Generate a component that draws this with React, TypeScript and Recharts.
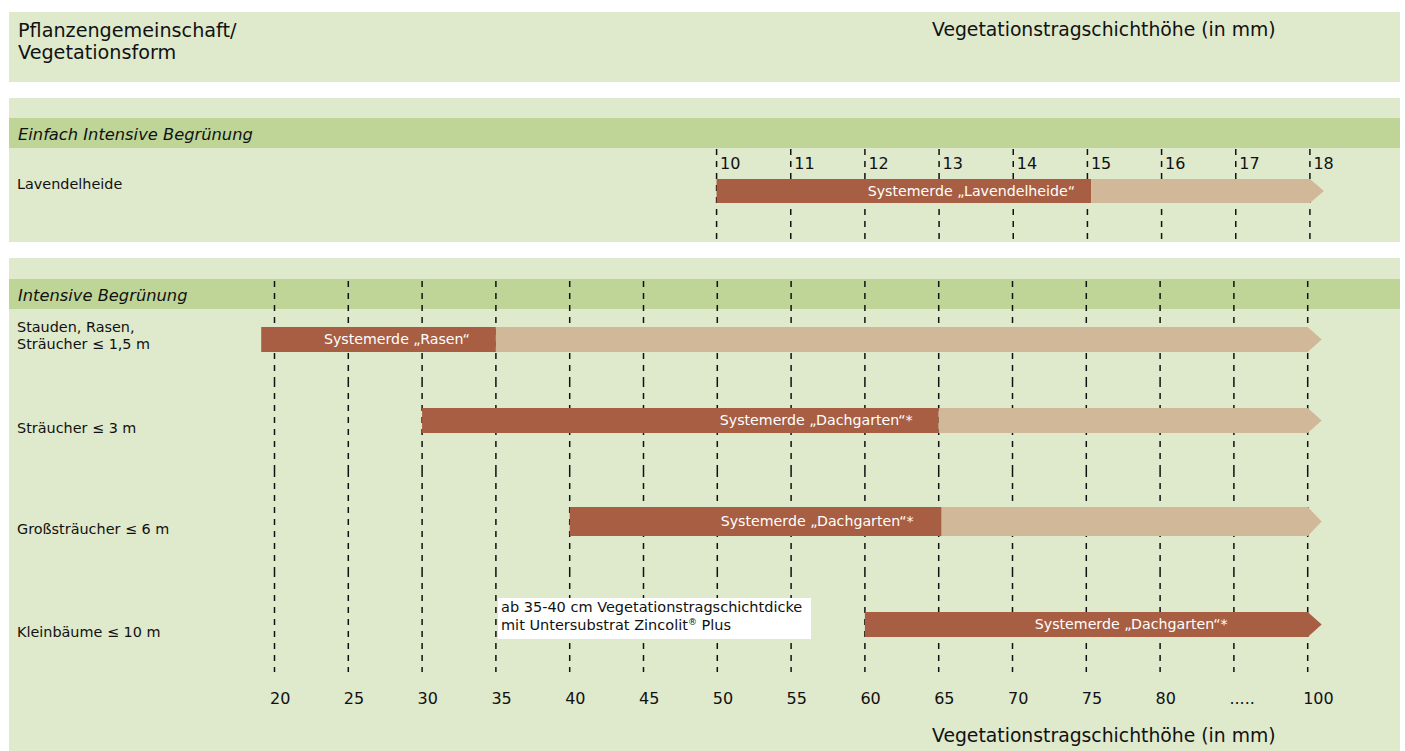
import React from 'react';
import { BarChart, Bar, XAxis, YAxis, CartesianGrid } from 'recharts';

// ---------------- data ----------------
const topTicks = [10, 11, 12, 13, 14, 15, 16, 17, 18];
const topRows = ['Lavendelheide'];
const topStart = [10];
const topSplit = [15.05];
const topEnd = [18];
const topProducts = ['Systemerde „Lavendelheide“'];

const bottomTickValues = [20, 25, 30, 35, 40, 45, 50, 55, 60, 65, 70, 75, 80, 90, 100];
const bottomTickLabels = ['20', '25', '30', '35', '40', '45', '50', '55', '60', '65', '70', '75', '80', '.....', '100'];
const bottomRows = ['Stauden, Rasen,\nSträucher ≤ 1,5 m', 'Sträucher ≤ 3 m', 'Großsträucher ≤ 6 m', 'Kleinbäume ≤ 10 m'];
const bottomStart = [19.1, 30, 40, 60];
const bottomSplit = [35, 65, 65.2, 100];
const bottomEnd = [100, 100, 100, 100];
const bottomProducts = ['Systemerde „Rasen“', 'Systemerde „Dachgarten“*', 'Systemerde „Dachgarten“*', 'Systemerde „Dachgarten“*'];

const headerLeft = ['Pflanzengemeinschaft/', 'Vegetationsform'];
const axisTitle = 'Vegetationstragschichthöhe (in mm)';
const sectionTitles = ['Einfach Intensive Begrünung', 'Intensive Begrünung'];
const noteLine1 = 'ab 35-40 cm Vegetationstragschichtdicke';
const noteLine2 = ['mit Untersubstrat Zincolit', '®', ' Plus'];

// ---------------- styles / layout ----------------
const FONT = "'DejaVu Sans', Verdana, sans-serif";
const LIGHT = '#dfe9cc';
const BAND = '#bed597';
const DARK = '#a75e42';
const SAND = '#d0b898';
const INK = '#111111';
const TIP = 14;
const W = 1405;

// axis position: linear up to 80, compressed 80..100 (the "....." gap)
const pos = (mm: number) => (mm <= 80 ? mm : 80 + (mm - 80) / 2);
const labelByPos: Record<string, string> = {};
bottomTickValues.forEach((v, i) => {
  labelByPos[String(pos(v))] = bottomTickLabels[i];
});

const ROW_LAYOUT = [
  { top: 281, plot: 100, padTop: 17, padBottom: 0, barSize: 25, labelDy: [-7.8, 9.5], inset: 26 },
  { top: 381, plot: 90, padTop: 0, padBottom: 11, barSize: 25, labelDy: [12], inset: 26 },
  { top: 471, plot: 100, padTop: 1, padBottom: 0, barSize: 29, labelDy: [12.5], inset: 28 },
  { top: 571, plot: 101, padTop: 6, padBottom: 0, barSize: 25, labelDy: [12], inset: 80 },
];
const AXIS_H = 80;

function arrowPath(x: number, y: number, w: number, h: number, tip: number) {
  if (tip <= 0) return `M${x},${y}H${x + w}V${y + h}H${x}Z`;
  return `M${x},${y}H${x + w}L${x + w + tip},${y + h / 2}L${x + w},${y + h}H${x}Z`;
}

function makeDarkShape(inset: number) {
  return (props: any) => {
    const { x, y, width, height, payload } = props;
    if (!(width > 0)) return <g />;
    const tip = payload.light > 0 ? 0 : TIP;
    return (
      <g>
        <path d={arrowPath(x, y, width, height, tip)} fill={DARK} />
        <text
          x={x + width - inset}
          y={y + height / 2 + 4.5}
          textAnchor="end"
          fill="#ffffff"
          fontSize={14.2}
          fontFamily={FONT}
        >
          {payload.product}
        </text>
      </g>
    );
  };
}

const LightShape = (props: any) => {
  const { x, y, width, height } = props;
  if (!(width > 0)) return <g />;
  return <path d={arrowPath(x, y, width, height, TIP)} fill={SAND} />;
};

const EmptyShape = () => <g />;
const EmptyTick = () => <g />;

const RowLabel = (props: any) => {
  const { y, payload, dys } = props;
  const lines = String(payload.value).split('\n');
  return (
    <text x={17} y={y} fontSize={14.4} fill={INK} fontFamily={FONT}>
      {lines.map((l, k) => (
        <tspan key={k} x={17} y={y + dys[k]}>
          {l}
        </tspan>
      ))}
    </text>
  );
};

const TopTick = (props: any) => {
  const { x, payload } = props;
  return (
    <text x={x + 3.5} y={21} fontSize={16} fill={INK} fontFamily={FONT}>
      {payload.value}
    </text>
  );
};

const BottomTick = (props: any) => {
  const { x, payload, baseY } = props;
  return (
    <text x={x - 4.5} y={baseY} fontSize={16} fill={INK} fontFamily={FONT}>
      {labelByPos[String(payload.value)]}
    </text>
  );
};

function TopChart() {
  const data = topRows.map((name, i) => ({
    name,
    base: topStart[i],
    dark: topSplit[i] - topStart[i],
    light: topEnd[i] - topSplit[i],
    product: topProducts[i],
  }));
  return (
    <BarChart
      layout="vertical"
      width={W}
      height={93}
      data={data}
      margin={{ top: 0, right: 58, bottom: 0, left: 678.5 }}
    >
      <CartesianGrid horizontal={false} syncWithTicks stroke={INK} strokeWidth={1.5} strokeDasharray="6 6" />
      <XAxis
        type="number"
        orientation="top"
        domain={[9.5, 18.5]}
        allowDataOverflow
        ticks={topTicks}
        interval={0}
        height={1}
        axisLine={false}
        tickLine={false}
        tick={<TopTick />}
      />
      <YAxis
        type="category"
        dataKey="name"
        width={1}
        axisLine={false}
        tickLine={false}
        interval={0}
        padding={{ top: 0, bottom: 8 }}
        tick={<RowLabel dys={[-2.5]} />}
      />
      <Bar dataKey="base" stackId="s" barSize={24} shape={EmptyShape} isAnimationActive={false} />
      <Bar dataKey="dark" stackId="s" barSize={24} fill={DARK} shape={makeDarkShape(16)} isAnimationActive={false} />
      <Bar dataKey="light" stackId="s" barSize={24} fill={SAND} shape={LightShape} isAnimationActive={false} />
    </BarChart>
  );
}

function RowChart({ i }: { i: number }) {
  const L = ROW_LAYOUT[i];
  const last = i === bottomRows.length - 1;
  const data = [
    {
      name: bottomRows[i],
      base: pos(bottomStart[i]),
      dark: pos(bottomSplit[i]) - pos(bottomStart[i]),
      light: pos(bottomEnd[i]) - pos(bottomSplit[i]),
      product: bottomProducts[i],
    },
  ];
  return (
    <BarChart
      layout="vertical"
      width={W}
      height={L.plot + (last ? AXIS_H : 1)}
      data={data}
      margin={{ top: 0, right: 60.4, bottom: 0, left: 236.6 }}
    >
      <CartesianGrid horizontal={false} syncWithTicks stroke={INK} strokeWidth={1.5} strokeDasharray="6 6" />
      <XAxis
        type="number"
        domain={[17.5, 92.5]}
        allowDataOverflow
        ticks={bottomTickValues.map(pos)}
        interval={0}
        height={last ? AXIS_H : 1}
        axisLine={false}
        tickLine={false}
        tick={last ? <BottomTick baseY={133} /> : <EmptyTick />}
      />
      <YAxis
        type="category"
        dataKey="name"
        width={1}
        axisLine={false}
        tickLine={false}
        interval={0}
        padding={{ top: L.padTop, bottom: L.padBottom }}
        tick={<RowLabel dys={L.labelDy} />}
      />
      <Bar dataKey="base" stackId="s" barSize={L.barSize} shape={EmptyShape} isAnimationActive={false} />
      <Bar dataKey="dark" stackId="s" barSize={L.barSize} fill={DARK} shape={makeDarkShape(L.inset)} isAnimationActive={false} />
      <Bar dataKey="light" stackId="s" barSize={L.barSize} fill={SAND} shape={LightShape} isAnimationActive={false} />
    </BarChart>
  );
}

export default function App() {
  return (
    <div
      style={{
        position: 'absolute',
        left: 0,
        top: 0,
        width: W,
        height: 751,
        overflow: 'hidden',
        background: '#ffffff',
        fontFamily: FONT,
      }}
    >
      <svg width={W} height={751} style={{ position: 'absolute', left: 0, top: 0 }}>
        <rect x={9} y={12} width={1391} height={70} fill={LIGHT} />
        <rect x={9} y={98} width={1391} height={144} fill={LIGHT} />
        <rect x={9} y={118} width={1391} height={30} fill={BAND} />
        <rect x={9} y={258} width={1391} height={493} fill={LIGHT} />
        <rect x={9} y={279} width={1391} height={30} fill={BAND} />
        <text x={18} y={37} fontSize={19.2} fill={INK} fontFamily={FONT}>
          {headerLeft[0]}
        </text>
        <text x={18} y={59} fontSize={19.2} fill={INK} fontFamily={FONT}>
          {headerLeft[1]}
        </text>
        <text x={932} y={36} fontSize={18.8} fill={INK} fontFamily={FONT}>
          {axisTitle}
        </text>
        <text x={18} y={139.5} fontSize={16.3} fontStyle="italic" fill={INK} fontFamily={FONT}>
          {sectionTitles[0]}
        </text>
        <text x={18} y={300.5} fontSize={16.3} fontStyle="italic" fill={INK} fontFamily={FONT}>
          {sectionTitles[1]}
        </text>
        <text x={932} y={742} fontSize={18.8} fill={INK} fontFamily={FONT}>
          {axisTitle}
        </text>
      </svg>
      <div style={{ position: 'absolute', left: 0, top: 148 }}>
        <TopChart />
      </div>
      {bottomRows.map((_, i) => (
        <div key={i} style={{ position: 'absolute', left: 0, top: ROW_LAYOUT[i].top }}>
          <RowChart i={i} />
        </div>
      ))}
      <svg width={320} height={45} style={{ position: 'absolute', left: 498, top: 598 }}>
        <rect x={0} y={0} width={313} height={41} fill="#ffffff" />
        <text x={3} y={13.5} fontSize={14.5} fill={INK} fontFamily={FONT}>
          {noteLine1}
        </text>
        <text x={3} y={32} fontSize={14.5} fill={INK} fontFamily={FONT}>
          {noteLine2[0]}
          <tspan fontSize={9} dy={-5}>
            {noteLine2[1]}
          </tspan>
          <tspan dy={5}>{noteLine2[2]}</tspan>
        </text>
      </svg>
    </div>
  );
}
